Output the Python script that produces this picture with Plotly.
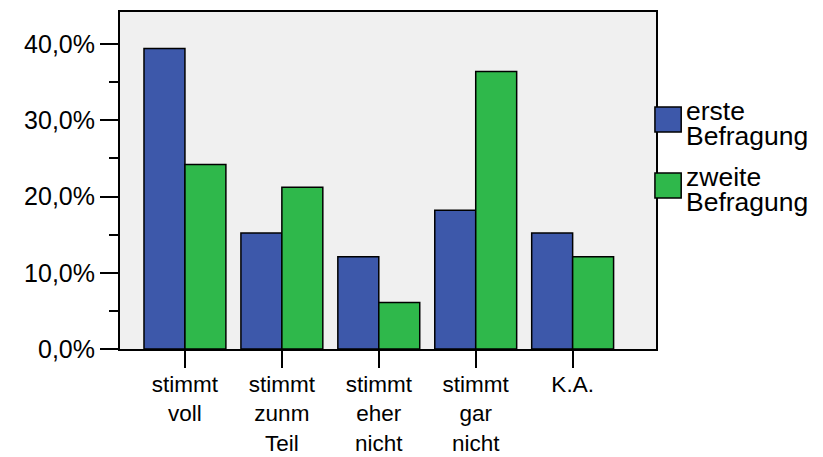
import plotly.graph_objects as go

categories = [
    "stimmt<br>voll",
    "stimmt<br>zunm<br>Teil",
    "stimmt<br>eher<br>nicht",
    "stimmt<br>gar<br>nicht",
    "K.A.",
]
erste = [39.4, 15.2, 12.1, 18.2, 15.2]
zweite = [24.2, 21.2, 6.1, 36.4, 12.1]
y_ticks = [0, 10, 20, 30, 40]
y_labels = ["0,0%", "10,0%", "20,0%", "30,0%", "40,0%"]
series_names = [["erste", "Befragung"], ["zweite", "Befragung"]]
colors = ["#3d58aa", "#2fb84b"]

font = dict(family="Liberation Sans, Arial, sans-serif", size=25, color="black")
xfont = dict(font, size=22.5)
legfont = dict(font, size=26.5)

fig = go.Figure()
for vals, names, col in zip([erste, zweite], series_names, colors):
    fig.add_trace(go.Bar(
        x=list(range(len(categories))), y=vals, name=" ".join(names),
        marker=dict(color=col, line=dict(color="black", width=1.5)),
        showlegend=False,
    ))

# page body adds an 8px offset, so margins are trimmed by that much
fig.update_layout(
    width=823, height=457,
    margin=dict(l=112, r=175, t=4, b=116),
    barmode="group", bargap=0.155, bargroupgap=0,
    plot_bgcolor="#f0f0f0", paper_bgcolor="white",
    font=font,
)
fig.update_xaxes(
    range=[-0.67, 4.86], tickmode="array",
    tickvals=list(range(len(categories))), ticktext=categories,
    ticks="outside", ticklen=17, tickwidth=2, tickcolor="black",
    ticklabelstandoff=-3,
    showline=True, linecolor="black", linewidth=2, mirror=True,
    showgrid=False, zeroline=False, tickfont=xfont, automargin=False,
)
fig.update_yaxes(
    range=[0, 44.2], tickmode="array", tickvals=y_ticks, ticktext=y_labels,
    ticks="outside", ticklen=18, tickwidth=2, tickcolor="black",
    minor=dict(tickvals=[5, 15, 25, 35], ticks="outside", ticklen=9,
               tickwidth=2, tickcolor="black", showgrid=False),
    showline=True, linecolor="black", linewidth=2, mirror=True,
    showgrid=False, zeroline=False, tickfont=font, automargin=False,
)

# legend drawn by hand to match the large square swatches
x0, x1, xt = 0.998, 1.047, 1.052
box_y = [(0.718, 0.644), (0.522, 0.448)]
for (ytop, ybot), names, col in zip(box_y, series_names, colors):
    fig.add_shape(type="rect", xref="paper", yref="paper",
                  x0=x0, x1=x1, y0=ybot, y1=ytop,
                  fillcolor=col, line=dict(color="black", width=1.5))
    mid = (ytop + ybot) / 2
    for i, line in enumerate(names):
        fig.add_annotation(xref="paper", yref="paper", x=xt,
                           y=mid + 0.026 - i * 0.076,
                           text=line, showarrow=False,
                           xanchor="left", yanchor="middle", font=legfont)

fig.write_html("out.html")
